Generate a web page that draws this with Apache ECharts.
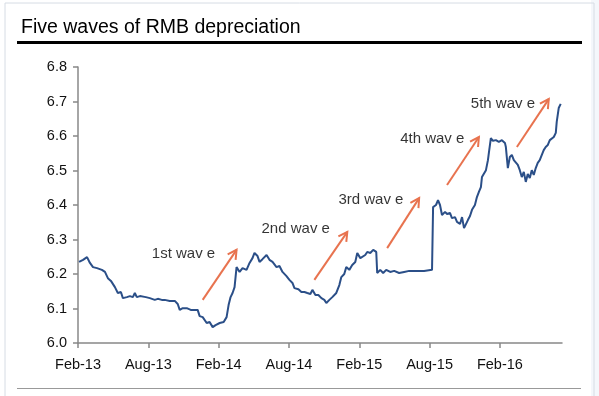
<!DOCTYPE html>
<html>
<head>
<meta charset="utf-8">
<script src="https://cdn.jsdelivr.net/npm/echarts@6/dist/echarts.min.js"></script>
<style>
  html, body { margin: 0; padding: 0; background: #fff; }
  #chart { width: 599px; height: 396px; }
</style>
</head>
<body>
<div id="chart"></div>
<script>
// x = months since Feb-13, y = USD/CNY
var months = [
  0.09, 0.43, 0.77, 1.02, 1.28, 1.62, 2.04, 2.30, 2.55, 2.81, 3.15, 3.40, 3.66, 3.83, 4.17, 4.43,
  4.68, 4.85, 5.02, 5.28, 5.45, 5.79, 6.13, 6.55, 6.81, 7.15, 7.40, 7.83, 8.26, 8.51, 8.68, 8.94,
  9.28, 9.62, 9.96, 10.21, 10.38, 10.64, 10.98, 11.23, 11.49, 11.74, 12.09, 12.43, 12.68, 12.85,
  13.02, 13.19, 13.36, 13.53, 13.79, 14.04, 14.38, 14.64, 14.89, 15.06, 15.32, 15.49, 15.74, 16.09,
  16.34, 16.60, 16.94, 17.19, 17.45, 17.79, 18.04, 18.30, 18.47, 18.81, 19.06, 19.32, 19.57, 19.83,
  20.00, 20.26, 20.51, 20.77, 21.02, 21.19, 21.45, 21.70, 22.04, 22.30, 22.47, 22.72, 22.89, 23.15,
  23.40, 23.66, 23.83, 24.09, 24.26, 24.51, 24.68, 24.94, 25.19, 25.45, 25.53, 25.79, 26.04, 26.30,
  26.64, 26.98, 27.40, 27.83, 28.26, 28.94, 29.53, 30.21, 30.30, 30.55, 30.72, 30.89, 31.06, 31.32,
  31.49, 31.74, 31.91, 32.17, 32.34, 32.60, 32.77, 32.94, 33.11, 33.28, 33.45, 33.62, 33.87, 34.04,
  34.21, 34.38, 34.47, 34.64, 34.81, 34.98, 35.06, 35.23, 35.40, 35.66, 35.91, 36.17, 36.43, 36.51,
  36.68, 36.85, 37.02, 37.19, 37.36, 37.53, 37.70, 37.87, 38.04, 38.21, 38.38, 38.55, 38.72, 38.89,
  39.06, 39.23, 39.40, 39.57, 39.74, 39.91, 40.09, 40.26, 40.43, 40.60, 40.77, 40.85, 41.02, 41.19
]
var usdCny = [
  6.235, 6.241, 6.249, 6.232, 6.220, 6.217, 6.212, 6.206, 6.188, 6.180, 6.162, 6.145, 6.148, 6.130, 6.133, 6.136,
  6.133, 6.145, 6.133, 6.136, 6.139, 6.133, 6.130, 6.125, 6.128, 6.125, 6.125, 6.122, 6.122, 6.113, 6.096, 6.101,
  6.101, 6.096, 6.096, 6.096, 6.078, 6.075, 6.058, 6.061, 6.046, 6.052, 6.058, 6.061, 6.075, 6.110,
  6.133, 6.145, 6.162, 6.220, 6.206, 6.217, 6.212, 6.232, 6.246, 6.261, 6.252, 6.235, 6.243, 6.255,
  6.241, 6.235, 6.220, 6.223, 6.206, 6.194, 6.183, 6.174, 6.159, 6.156, 6.148, 6.148, 6.145, 6.142,
  6.154, 6.139, 6.139, 6.130, 6.125, 6.116, 6.125, 6.133, 6.145, 6.168, 6.191, 6.200, 6.220, 6.212,
  6.226, 6.235, 6.261, 6.246, 6.241, 6.255, 6.264, 6.261, 6.270, 6.264, 6.203, 6.212, 6.203, 6.212,
  6.206, 6.209, 6.203, 6.206, 6.209, 6.209, 6.209, 6.212, 6.394, 6.400, 6.414, 6.400, 6.371, 6.380,
  6.374, 6.377, 6.362, 6.365, 6.351, 6.345, 6.365, 6.333, 6.328, 6.357, 6.368, 6.386, 6.400, 6.423,
  6.438, 6.452, 6.481, 6.484, 6.501, 6.530, 6.551, 6.594, 6.586, 6.588, 6.583, 6.588, 6.580, 6.568,
  6.507, 6.539, 6.545, 6.530, 6.525, 6.516, 6.501, 6.481, 6.496, 6.467, 6.490, 6.478, 6.501, 6.487,
  6.507, 6.522, 6.530, 6.525, 6.559, 6.568, 6.574, 6.588, 6.583, 6.597, 6.609, 6.641, 6.681, 6.693
]

var tickLabels = ['Feb-13', 'Aug-13', 'Feb-14', 'Aug-14', 'Feb-15', 'Aug-15', 'Feb-16']

// wave annotations
var waveNames = ['1st wav e', '2nd wav e', '3rd wav e', '4th wav e', '5th wav e']
var waveLabelX = [6.30, 15.66, 22.22, 27.49, 33.52]
var waveLabelY = [6.258, 6.330, 6.414, 6.591, 6.693]
var arrowFromX = [10.64, 20.17, 26.38, 31.49, 37.45]
var arrowFromY = [6.125, 6.183, 6.275, 6.458, 6.568]
var arrowToX = [13.53, 22.98, 29.11, 34.21, 40.17]
var arrowToY = [6.270, 6.322, 6.420, 6.597, 6.707]

var lineData = months.map(function (m, i) { return [m, usdCny[i]] })
var labelData = waveNames.map(function (n, i) {
  return { name: n, value: [waveLabelX[i], waveLabelY[i]] }
})
var arrowData = waveNames.map(function (n, i) {
  return [arrowFromX[i], arrowFromY[i], arrowToX[i], arrowToY[i]]
})

var font = '"Liberation Sans", Arial, sans-serif'
var arrowColor = '#e8734f'

function renderArrow (params, api) {
  var p0 = api.coord([api.value(0), api.value(1)])
  var p1 = api.coord([api.value(2), api.value(3)])
  var ang = Math.atan2(p1[1] - p0[1], p1[0] - p0[0])
  var len = 10
  var spread = 0.5
  var w1 = [p1[0] - len * Math.cos(ang - spread), p1[1] - len * Math.sin(ang - spread)]
  var w2 = [p1[0] - len * Math.cos(ang + spread), p1[1] - len * Math.sin(ang + spread)]
  var style = { stroke: arrowColor, lineWidth: 2, fill: null }
  return {
    type: 'group',
    children: [
      { type: 'line', shape: { x1: p0[0], y1: p0[1], x2: p1[0], y2: p1[1] }, style: style },
      { type: 'polyline', shape: { points: [w1, p1, w2] }, style: style }
    ]
  }
}

var chart = echarts.init(document.getElementById('chart'))
chart.setOption({
  animation: false,
  backgroundColor: '#fff',
  title: {
    text: 'Five waves of RMB depreciation',
    left: 16,
    top: 13,
    textStyle: { fontFamily: font, fontSize: 19.5, fontWeight: 'normal', color: '#000' }
  },
  graphic: [
    // page edge on the right
    { type: 'rect', shape: { x: 591, y: 0, width: 8, height: 396 }, style: { fill: '#f4f7fb' }, silent: true },
    // outer frame
    { type: 'rect', shape: { x: 5, y: 3, width: 589, height: 400 }, style: { fill: 'none', stroke: '#d6dce4', lineWidth: 1 }, silent: true },
    // thick rule under title
    { type: 'rect', shape: { x: 17, y: 41, width: 565, height: 3 }, style: { fill: '#000' }, silent: true },
    // thin rule at bottom
    { type: 'rect', shape: { x: 17, y: 388, width: 564, height: 1 }, style: { fill: '#999' }, silent: true }
  ],
  grid: { left: 78, right: 37, top: 67, bottom: 53 },
  xAxis: {
    type: 'value',
    min: 0,
    max: 41.3,
    interval: 6,
    splitLine: { show: false },
    axisLine: { lineStyle: { color: '#888', width: 1.5 } },
    axisTick: { length: 5, lineStyle: { color: '#888', width: 1.5 } },
    axisLabel: {
      margin: 14,
      showMaxLabel: false,
      fontFamily: font,
      fontSize: 14.5,
      color: '#111',
      formatter: function (v) {
        var k = Math.round(v / 6)
        return Math.abs(v - k * 6) < 1e-6 && tickLabels[k] ? tickLabels[k] : ''
      }
    }
  },
  yAxis: {
    type: 'value',
    min: 6.0,
    max: 6.8,
    interval: 0.1,
    splitLine: { show: false },
    axisLine: { show: true, lineStyle: { color: '#888', width: 1.5 } },
    axisTick: { show: true, length: 5, lineStyle: { color: '#888', width: 1.5 } },
    axisLabel: {
      margin: 11,
      fontFamily: font,
      fontSize: 14.5,
      color: '#111',
      formatter: function (v) { return v.toFixed(1) }
    }
  },
  series: [
    {
      type: 'line',
      data: lineData,
      showSymbol: false,
      lineStyle: { color: '#2b4f88', width: 2 }
    },
    {
      type: 'custom',
      data: arrowData,
      encode: { x: [0, 2], y: [1, 3] },
      silent: true,
      renderItem: renderArrow
    },
    {
      type: 'scatter',
      data: labelData,
      symbolSize: 0,
      silent: true,
      label: {
        show: true,
        position: 'right',
        distance: 0,
        formatter: '{b}',
        fontFamily: font,
        fontSize: 15,
        color: '#000'
      }
    }
  ]
})
</script>
</body>
</html>
